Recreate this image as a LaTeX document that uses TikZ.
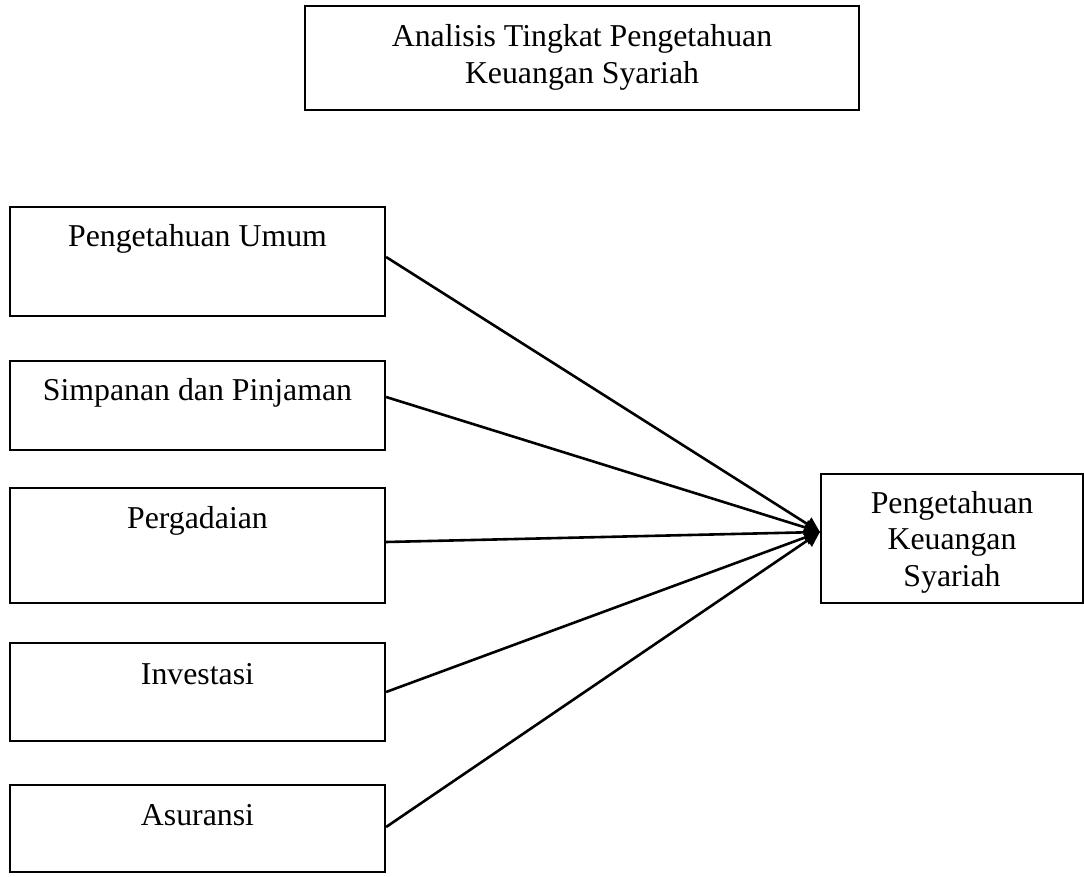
\documentclass[tikz,border=0pt]{standalone}
\usepackage{fontspec}
\setmainfont{Liberation Serif}
\usetikzlibrary{arrows.meta,calc}
\begin{document}
\begin{tikzpicture}[x=1pt,y=-1pt,
  box/.style={draw, line width=2.2pt, inner sep=0pt},
  txt/.style={font=\fontsize{31.8}{36.6}\selectfont, inner sep=0pt, align=center},
  arr/.style={line width=2.6pt, -{Triangle[length=15pt,width=15pt]}}]
\useasboundingbox (0,0) rectangle (1084,877);
% top box
\node[box, minimum width=554pt, minimum height=104pt] (top) at (582,58) {};
\node[txt] (toptxt) at (582,57.5) {Analisis Tingkat Pengetahuan\\Keuangan Syariah};
% left boxes
\node[box, minimum width=375pt, minimum height=109pt] (b1) at (197.5,261.5) {};
\node[txt] (t1) at (197.5,239) {Pengetahuan Umum};
\node[box, minimum width=375pt, minimum height=89pt] (b2) at (197.5,405.5) {};
\node[txt] (t2) at (197.5,393) {Simpanan dan Pinjaman};
\node[box, minimum width=375pt, minimum height=115pt] (b3) at (197.5,545.5) {};
\node[txt] (t3) at (197.5,521) {Pergadaian};
\node[box, minimum width=375pt, minimum height=98pt] (b4) at (197.5,692) {};
\node[txt] (t4) at (197.5,674) {Investasi};
\node[box, minimum width=375pt, minimum height=87pt] (b5) at (197.5,828.5) {};
\node[txt] (t5) at (197.5,815) {Asuransi};
% right box
\node[box, minimum width=262pt, minimum height=129pt] (r) at (952,538.5) {};
\node[txt] (rt) at (952,542) {Pengetahuan\\Keuangan\\Syariah};
% connectors
\coordinate (tip) at ($(r.west)+(0,-6.5)$);
\draw[arr] ($(b1.east)+(0,-4.5)$) -- (tip);
\draw[arr] ($(b2.east)+(0,-8.5)$) -- (tip);
\draw[arr] ($(b3.east)+(0,-3.5)$) -- (tip);
\draw[arr] (b4.east) -- (tip);
\draw[arr] ($(b5.east)+(0,-1.5)$) -- (tip);
\end{tikzpicture}
\end{document}
